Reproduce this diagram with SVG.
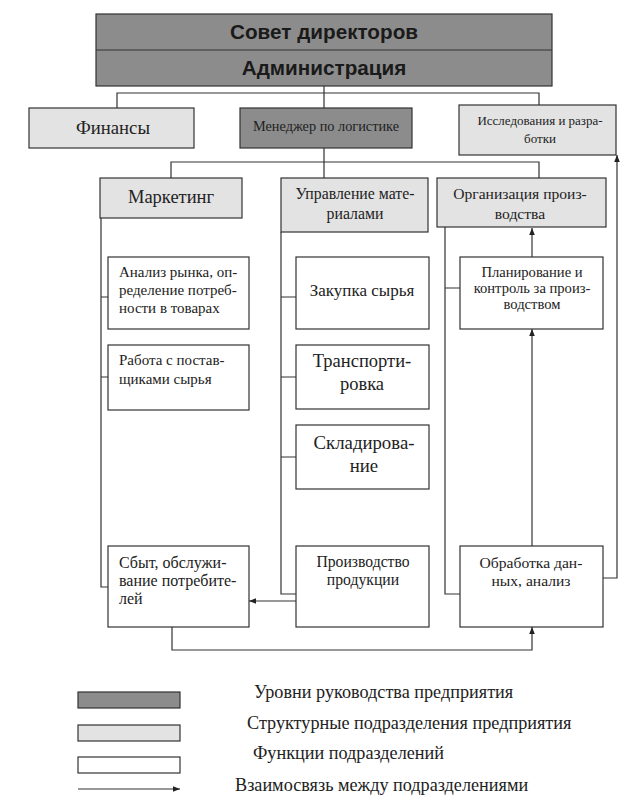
<svg xmlns="http://www.w3.org/2000/svg" width="632" height="804" viewBox="0 0 632 804">
<style>
.dark{fill:#8c8c8c;stroke:#333;stroke-width:1.2}
.light{fill:#e3e3e3;stroke:#333;stroke-width:1.2}
.white{fill:#fff;stroke:#333;stroke-width:1.2}
.ln{fill:none;stroke:#333;stroke-width:1.2}
text{font-family:"Liberation Serif","Times New Roman","DejaVu Serif",serif;fill:#222}
.c{text-anchor:middle}
text.h{font-family:"Liberation Sans",Arial,sans-serif;font-weight:bold;font-size:20.7px;fill:#1a1a1a;text-anchor:middle}
</style>
<defs>
<marker id="ah" viewBox="0 0 10 10" refX="10" refY="5" markerWidth="7" markerHeight="7" orient="auto" markerUnits="userSpaceOnUse">
<path d="M0,1 L10,5 L0,9 z" fill="#222"/>
</marker>
</defs>
<rect width="632" height="804" fill="#fff"/>

<g id="connectors">
<path class="ln" d="M324,86 V93 M117,108 V93 H539 V105 M324,93 V108"/>
<path class="ln" d="M324,148 V162 M171,178 V162 H539 V178 M324,162 V178"/>
<path class="ln" d="M101,218 V587 H108 M101,297 H108 M101,377 H108"/>
<path class="ln" d="M281,232 V594 H296 M281,297 H296 M281,377 H296 M281,457 H296"/>
<path class="ln" d="M445,227 V594 H460 M445,288 H460"/>
<path class="ln" d="M532,257 V228" marker-end="url(#ah)"/>
<path class="ln" d="M532,546 V329" marker-end="url(#ah)"/>
<path class="ln" d="M296,601 H249" marker-end="url(#ah)"/>
<path class="ln" d="M172,627 V650 H532 V627" marker-end="url(#ah)"/>
<path class="ln" d="M603,578 H617 V155" marker-end="url(#ah)"/>
</g>

<g id="top">
<rect class="dark" x="96" y="14" width="456" height="72"/>
<line class="ln" x1="96" y1="50" x2="552" y2="50"/>
<text class="h" x="324" y="39">Совет директоров</text>
<text class="h" x="324" y="75">Администрация</text>
</g>

<g id="finance">
<rect class="light" x="29" y="108" width="165" height="40"/>
<text class="c" x="113" y="134" font-size="18.7">Финансы</text>
</g>
<g id="manager">
<rect class="dark" x="240" y="108" width="172" height="40"/>
<text class="c" x="326" y="131" font-size="14.3">Менеджер по логистике</text>
</g>
<g id="research">
<rect class="light" x="459" y="105" width="157" height="50"/>
<text class="c" x="540" y="125" font-size="13">Исследования и разра-</text>
<text class="c" x="540" y="143" font-size="13">ботки</text>
</g>

<g id="marketing">
<rect class="light" x="100" y="178" width="142" height="40"/>
<text class="c" x="171" y="203" font-size="18.5">Маркетинг</text>
</g>
<g id="materials">
<rect class="light" x="281" y="178" width="147" height="54"/>
<text class="c" x="355" y="199" font-size="15.8">Управление мате-</text>
<text class="c" x="355" y="219" font-size="15.8">риалами</text>
</g>
<g id="production">
<rect class="light" x="437" y="178" width="169" height="49"/>
<text class="c" x="520" y="199" font-size="15.6">Организация произ-</text>
<text class="c" x="520" y="219" font-size="15.6">водства</text>
</g>

<g id="analysis">
<rect class="white" x="108" y="257" width="141" height="72"/>
<text x="119" y="277" font-size="15">Анализ рынка, оп-</text>
<text x="119" y="295" font-size="15">ределение потреб-</text>
<text x="119" y="313" font-size="15">ности в товарах</text>
</g>
<g id="suppliers">
<rect class="white" x="108" y="345" width="141" height="65"/>
<text x="119" y="365" font-size="15">Работа с постав-</text>
<text x="119" y="384" font-size="15">щиками сырья</text>
</g>
<g id="sales">
<rect class="white" x="108" y="546" width="141" height="81"/>
<text x="119" y="568" font-size="16">Сбыт, обслужи-</text>
<text x="119" y="586" font-size="16">вание потребите-</text>
<text x="119" y="604" font-size="16">лей</text>
</g>

<g id="purchase">
<rect class="white" x="296" y="257" width="133" height="72"/>
<text class="c" x="362" y="296" font-size="17">Закупка сырья</text>
</g>
<g id="transport">
<rect class="white" x="296" y="345" width="133" height="64"/>
<text class="c" x="362" y="367" font-size="18.5">Транспорти-</text>
<text class="c" x="362" y="390" font-size="18.5">ровка</text>
</g>
<g id="storage">
<rect class="white" x="296" y="425" width="133" height="64"/>
<text class="c" x="364" y="449" font-size="18.8">Складирова-</text>
<text class="c" x="364" y="472" font-size="18.8">ние</text>
</g>
<g id="manufacturing">
<rect class="white" x="296" y="546" width="133" height="81"/>
<text class="c" x="363" y="567" font-size="15.7">Производство</text>
<text class="c" x="363" y="585" font-size="15.7">продукции</text>
</g>

<g id="planning">
<rect class="white" x="460" y="257" width="143" height="72"/>
<text class="c" x="532" y="277" font-size="14.6">Планирование и</text>
<text class="c" x="532" y="293" font-size="14.6">контроль за произ-</text>
<text class="c" x="532" y="309" font-size="14.6">водством</text>
</g>
<g id="dataproc">
<rect class="white" x="460" y="546" width="143" height="81"/>
<text class="c" x="531" y="568" font-size="15.6">Обработка дан-</text>
<text class="c" x="531" y="586" font-size="15.6">ных, анализ</text>
</g>

<g id="legend">
<rect class="dark" x="78" y="692" width="102" height="16"/>
<rect class="light" x="78" y="725" width="102" height="16"/>
<rect class="white" x="78" y="757" width="102" height="16"/>
<path class="ln" d="M78,789 H180" marker-end="url(#ah)"/>
<text x="254" y="698" font-size="18.2">Уровни руководства предприятия</text>
<text x="247" y="729" font-size="18.2">Структурные подразделения предприятия</text>
<text x="253" y="759" font-size="18.2">Функции подразделений</text>
<text x="235" y="791" font-size="18.2">Взаимосвязь между подразделениями</text>
</g>
</svg>
